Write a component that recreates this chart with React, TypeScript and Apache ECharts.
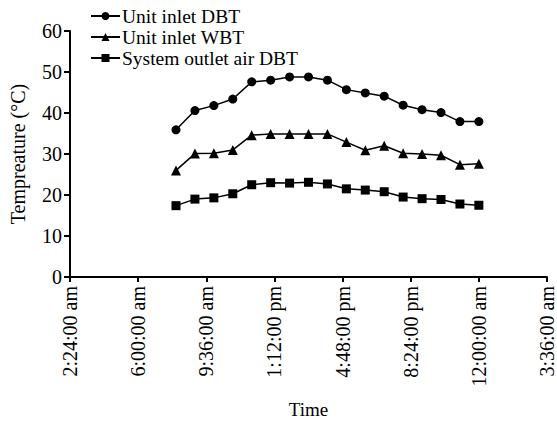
import React, { useEffect, useRef } from "react";
import * as echarts from "echarts";

const hours = [8, 9, 10, 11, 12, 13, 14, 15, 16, 17, 18, 19, 20, 21, 22, 23, 24];
const unitInletDBT = [35.9, 40.6, 41.8, 43.4, 47.6, 48.0, 48.8, 48.8, 48.0, 45.7, 44.9, 44.1, 41.9, 40.8, 40.1, 37.9, 37.9];
const unitInletWBT = [26.0, 30.1, 30.2, 31.0, 34.6, 34.9, 34.9, 34.9, 34.9, 32.9, 30.9, 32.0, 30.2, 30.0, 29.7, 27.4, 27.6];
const systemOutletDBT = [17.4, 19.0, 19.3, 20.3, 22.5, 23.0, 22.9, 23.1, 22.7, 21.5, 21.2, 20.8, 19.5, 19.1, 18.9, 17.8, 17.5];
const seriesNames = ["Unit inlet DBT", "Unit inlet WBT", "System outlet air DBT"];
const symbols = ["circle", "triangle", "rect"];

// x-axis: hours of day, shown from 2:24 am (2.4 h) to 3:36 am next day, step 3.6 h
const X_START = 2.4;
const X_END = 27.6;
const X_STEP = 3.6;

const FONT = '"Liberation Serif", "Times New Roman", serif';

function fmtTime(v: number): string {
  const mins = Math.round((v + X_START) * 60) % 1440;
  const hh = Math.floor(mins / 60);
  const mm = mins % 60;
  const ampm = hh < 12 ? "am" : "pm";
  const h12 = hh % 12 === 0 ? 12 : hh % 12;
  return `${h12}:${String(mm).padStart(2, "0")}:00 ${ampm}`;
}

export default function App() {
  const ref = useRef<HTMLDivElement>(null);
  useEffect(() => {
    document.body.style.margin = "0";
    if (!ref.current) return;
    const chart = echarts.init(ref.current, null, { renderer: "svg" });
    const allSeries = [unitInletDBT, unitInletWBT, systemOutletDBT];
    chart.setOption({
      animation: false,
      textStyle: { fontFamily: FONT, color: "#000" },
      legend: {
        orient: "vertical",
        left: 90,
        top: 6,
        padding: 0,
        itemWidth: 29,
        itemHeight: 10,
        itemGap: 1,
        textStyle: { fontFamily: FONT, fontSize: 19.5, color: "#000", padding: [0, 0, 0, -3] },
        data: seriesNames,
      },
      grid: { left: 69, right: 8, top: 31, bottom: 147, containLabel: false },
      xAxis: {
        type: "value",
        min: 0,
        max: X_END - X_START,
        interval: X_STEP,
        name: "Time",
        nameLocation: "middle",
        nameGap: 123,
        nameTextStyle: { fontFamily: FONT, fontSize: 19, color: "#000" },
        splitLine: { show: false },
        axisLine: { lineStyle: { color: "#000", width: 2 } },
        axisTick: { show: true, length: 5, lineStyle: { color: "#000", width: 2 } },
        axisLabel: {
          rotate: 90,
          margin: 9,
          fontFamily: FONT,
          fontSize: 20,
          color: "#000",
          formatter: (v: number) => fmtTime(v),
        },
      },
      yAxis: {
        type: "value",
        min: 0,
        max: 60,
        interval: 10,
        name: "Tempreature (°C)",
        nameLocation: "middle",
        nameGap: 42,
        nameRotate: 90,
        nameTextStyle: { fontFamily: FONT, fontSize: 20, color: "#000" },
        splitLine: { show: false },
        axisLine: { show: true, lineStyle: { color: "#000", width: 2 } },
        axisTick: { show: true, length: 6, lineStyle: { color: "#000", width: 2 } },
        axisLabel: { margin: 8, fontFamily: FONT, fontSize: 20, color: "#000" },
      },
      series: allSeries.map((vals, i) => ({
        name: seriesNames[i],
        type: "line",
        symbol: symbols[i],
        symbolSize: i === 1 ? 10 : 9,
        showAllSymbol: true,
        lineStyle: { color: "#000", width: 1.5 },
        itemStyle: { color: "#000" },
        data: hours.map((h, j) => [h - X_START, vals[j]]),
      })),
    });
    return () => chart.dispose();
  }, []);
  return <div ref={ref} style={{ width: 557, height: 424 }} />;
}
